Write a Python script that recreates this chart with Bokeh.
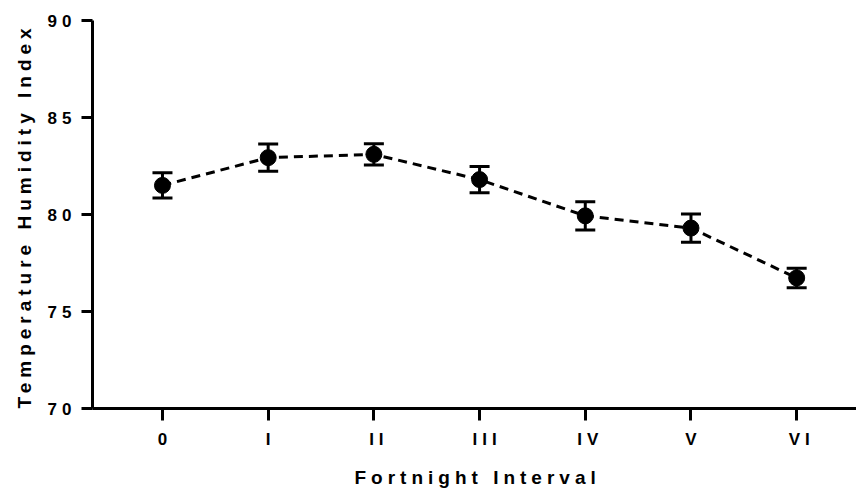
from bokeh.plotting import figure
from bokeh.models import ColumnDataSource, FixedTicker, Whisker, TeeHead, Range1d, Title
from bokeh.embed import file_html
from bokeh.resources import INLINE

intervals = ["0", "I", "II", "III", "IV", "V", "VI"]
thi_mean = [81.5, 82.93, 83.1, 81.8, 79.93, 79.3, 76.73]
thi_err = [0.65, 0.70, 0.55, 0.68, 0.73, 0.73, 0.50]
y_ticks = [70, 75, 80, 85, 90]
x_title = "Fortnight Interval"
y_title = "Temperature Humidity Index"

SPACING = 5  # px letter spacing of every text

xs = list(range(len(intervals)))
src = ColumnDataSource(dict(
    x=xs, y=thi_mean,
    lo=[m - e for m, e in zip(thi_mean, thi_err)],
    hi=[m + e for m, e in zip(thi_mean, thi_err)],
))

p = figure(width=856, height=500, output_backend="svg", toolbar_location=None,
           x_range=Range1d(-0.662, 6.566), y_range=Range1d(70, 90),
           min_border_left=92, min_border_right=0, min_border_top=20, min_border_bottom=92,
           stylesheets=[":host { letter-spacing: %dpx; }" % SPACING])
p.outline_line_color = None
p.grid.visible = False
p.background_fill_color = "white"
p.border_fill_color = "white"

p.line("x", "y", source=src, line_color="black", line_width=3, line_dash="9 6")
w = Whisker(base="x", lower="lo", upper="hi", source=src,
            line_color="black", line_width=3,
            upper_head=TeeHead(size=20, line_width=3, line_color="black"),
            lower_head=TeeHead(size=20, line_width=3, line_color="black"))
p.add_layout(w)
p.scatter("x", "y", source=src, size=16, fill_color="black", line_color="black")

font = "Liberation Sans"
for ax in (p.xaxis[0], p.yaxis[0]):
    ax.axis_line_width = 3
    ax.axis_line_color = "black"
    ax.major_tick_line_width = 3
    ax.major_tick_line_color = "black"
    ax.major_tick_in = 0
    ax.minor_tick_line_color = None
    ax.major_label_text_font = font
    ax.major_label_text_font_style = "bold"
    ax.major_label_text_font_size = "17px"
    ax.major_label_text_color = "black"

p.xaxis.ticker = FixedTicker(ticks=xs)
p.xaxis.major_label_overrides = {i: s for i, s in enumerate(intervals)}
p.xaxis.major_tick_out = 12
p.xaxis.major_label_standoff = 9

p.yaxis.ticker = FixedTicker(ticks=y_ticks)
p.yaxis.major_tick_out = 11
p.yaxis.major_label_standoff = 15

# axis titles: letter-spaced text grows from its start, so start it from the frame edge
xt = Title(text=x_title, align="left", offset=262, text_font=font, text_font_style="bold",
           text_font_size="19px", text_color="black", standoff=26)
p.add_layout(xt, "below")
yt = Title(text=y_title, align="left", offset=0, text_font=font, text_font_style="bold",
           text_font_size="19px", text_color="black", standoff=20)
p.add_layout(yt, "left")

open("out.html", "w").write(file_html(p, INLINE))
